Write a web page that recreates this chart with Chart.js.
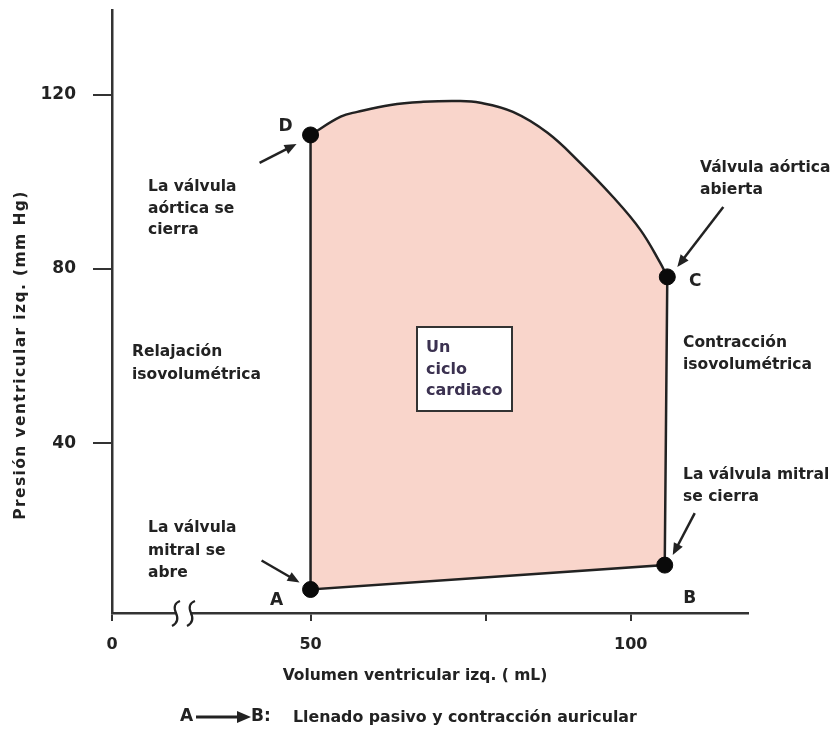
<!DOCTYPE html>
<html>
<head>
<meta charset="utf-8">
<script src="https://cdn.jsdelivr.net/npm/chart.js@4/dist/chart.umd.min.js"></script>
<style>
  html, body { margin: 0; padding: 0; background: #fff; }
  #wrap { width: 837px; height: 730px; }
</style>
</head>
<body>
<div id="wrap"><canvas id="pvLoop" width="837" height="730"></canvas></div>
<script>
// labelled corners of the loop
const cornerNames    = ['A', 'B', 'C', 'D'];
const cornerVolume   = [50, 105.3, 105.7, 50];
const cornerPressure = [6.4, 12.0, 78.2, 110.8];

// ejection curve, from C round the top to D
const curveVolume   = [105.7, 104.6, 101.5, 97.2, 92.1, 87.0, 81.6, 76.5, 72.9, 67.6, 62.5, 57.3, 54.7, 50];
const curvePressure = [78.2, 81.4, 89.0, 96.6, 104.4, 111.3, 116.1, 118.2, 118.6, 118.4, 117.7, 116.1, 115.0, 110.8];

// axis ticks (the 19 mL tick stands for the broken "0")
const xTicks = [19, 50, 77.4, 100];
const xTickText = ['0', '50', '', '100'];
const yTicks = [40, 80, 120];

const ink = '#222';
const FAMILY = '"DejaVu Sans", Verdana, sans-serif';
const bold = (size) => 'bold ' + size + 'px ' + FAMILY;

const corner = (i) => ({ x: cornerVolume[i], y: cornerPressure[i] });
const curvePoints = curveVolume.map((v, i) => ({ x: v, y: curvePressure[i] }));
// loop = A, B, then the curve C..D, back to A (fill only)
const loopPoints = [corner(0), corner(1)].concat(curvePoints, [corner(0)]);
// straight edges D -> A -> B -> C
const edgePoints = [corner(3), corner(0), corner(1), corner(2)];

//draws the notes, arrows, letters, axis titles and the axis break
const notesPlugin = {
    id: 'notes',
    afterDraw(chart) {
        const ctx = chart.ctx;
        const xs = chart.scales.x, ys = chart.scales.y;
        const px = (i) => xs.getPixelForValue(cornerVolume[i]);
        const py = (i) => ys.getPixelForValue(cornerPressure[i]);

        ctx.save();
        ctx.fillStyle = ink;
        ctx.strokeStyle = ink;

        const lines = (arr, x, y, lh, font, color) => {
            ctx.font = font;
            ctx.fillStyle = color || ink;
            ctx.textAlign = 'left';
            ctx.textBaseline = 'middle';
            arr.forEach((t, k) => ctx.fillText(t, x, y + k * lh));
        };

        const arrow = (x1, y1, x2, y2) => {
            const a = Math.atan2(y2 - y1, x2 - x1);
            ctx.fillStyle = ink;
            ctx.lineWidth = 2.5;
            ctx.beginPath();
            ctx.moveTo(x1, y1);
            ctx.lineTo(x2 - 8 * Math.cos(a), y2 - 8 * Math.sin(a));
            ctx.stroke();
            ctx.beginPath();
            ctx.moveTo(x2, y2);
            ctx.lineTo(x2 - 12 * Math.cos(a) + 5 * Math.sin(a), y2 - 12 * Math.sin(a) - 5 * Math.cos(a));
            ctx.lineTo(x2 - 12 * Math.cos(a) - 5 * Math.sin(a), y2 - 12 * Math.sin(a) + 5 * Math.cos(a));
            ctx.closePath();
            ctx.fill();
        };

        // arrows pointing at the corners (offsets from each corner)
        const arrowOffsets = [[-49, -29, -11, -7], [30, -52, 8, -10], [56, -70, 10, -10], [-51, 28, -14, 9]];
        const letterOffsets = [[-34, 11], [25, 33], [28, 5], [-25, -8]];
        cornerNames.forEach((name, i) => {
            const o = arrowOffsets[i];
            arrow(px(i) + o[0], py(i) + o[1], px(i) + o[2], py(i) + o[3]);
            ctx.font = bold(17);
            ctx.textAlign = 'center';
            ctx.textBaseline = 'middle';
            ctx.fillText(name, px(i) + letterOffsets[i][0], py(i) + letterOffsets[i][1]);
        });

        const noteFont = bold(15.5);
        lines(['La válvula', 'aórtica se', 'cierra'], 148, 187, 21.5, noteFont);
        lines(['Relajación', 'isovolumétrica'], 132, 352, 23, noteFont);
        lines(['La válvula', 'mitral se', 'abre'], 148, 528, 22.5, noteFont);
        lines(['Válvula aórtica', 'abierta'], 700, 168, 22, noteFont);
        lines(['Contracción', 'isovolumétrica'], 683, 343, 22, noteFont);
        lines(['La válvula mitral', 'se cierra'], 683, 475, 22, noteFont);

        // "Un ciclo cardiaco" box
        ctx.fillStyle = '#fff';
        ctx.fillRect(417, 327, 95, 84);
        ctx.lineWidth = 2;
        ctx.strokeStyle = '#333';
        ctx.strokeRect(417, 327, 95, 84);
        lines(['Un', 'ciclo', 'cardiaco'], 426, 348, 21.5, bold(16), '#3b3150');

        // axis break on the volume axis
        const by = xs.top;
        ctx.fillStyle = '#fff';
        ctx.fillRect(177, by - 4, 13, 8);
        ctx.strokeStyle = ink;
        ctx.lineWidth = 2.2;
        [176, 191].forEach((bx) => {
            ctx.beginPath();
            ctx.moveTo(bx + 4, by - 12);
            ctx.quadraticCurveTo(bx - 4, by - 9, bx, by);
            ctx.quadraticCurveTo(bx + 4, by + 9, bx - 4, by + 13);
            ctx.stroke();
        });

        // axis titles
        ctx.fillStyle = ink;
        ctx.font = bold(15.5);
        ctx.textAlign = 'center';
        ctx.textBaseline = 'middle';
        ctx.fillText('Volumen ventricular izq. ( mL)', 415, 676);
        ctx.save();
        ctx.translate(21, 355);
        ctx.rotate(-Math.PI / 2);
        if ('letterSpacing' in ctx) {
            ctx.letterSpacing = '1.4px';
            ctx.font = bold(15.5);
        } else {
            ctx.font = bold(17.5);
        }
        ctx.fillText('Presión ventricular izq. (mm Hg)', 0, 0);
        ctx.restore();

        // A -> B caption
        ctx.font = bold(17);
        ctx.textAlign = 'left';
        ctx.fillText('A', 180, 717);
        ctx.lineWidth = 3;
        ctx.beginPath();
        ctx.moveTo(196, 717);
        ctx.lineTo(240, 717);
        ctx.stroke();
        ctx.beginPath();
        ctx.moveTo(251, 717);
        ctx.lineTo(237, 711);
        ctx.lineTo(237, 723);
        ctx.closePath();
        ctx.fill();
        ctx.fillText('B:', 251, 717);
        ctx.font = bold(15.8);
        ctx.fillText('Llenado pasivo y contracción auricular', 293, 718);

        ctx.restore();
    }
};

const config = {
    type: 'scatter',
    data: {
        datasets: [{
            // filled loop, no border, drawn underneath
            data: loopPoints,
            order: 3,
            showLine: true,
            fill: 'shape',
            backgroundColor: 'rgb(249, 213, 203)',
            borderWidth: 0,
            borderColor: 'rgba(0,0,0,0)',
            tension: 0,
            pointRadius: 0
        }, {
            // straight edges
            data: edgePoints,
            order: 2,
            showLine: true,
            fill: false,
            borderColor: '#222',
            borderWidth: 2.5,
            tension: 0,
            pointRadius: 0
        }, {
            // smooth top curve
            data: curvePoints,
            order: 1,
            showLine: true,
            fill: false,
            borderColor: '#222',
            borderWidth: 2.5,
            tension: 0.4,
            pointRadius: 0
        }, {
            data: cornerVolume.map((v, i) => corner(i)),
            order: 0,
            showLine: false,
            pointRadius: 8,
            pointBackgroundColor: '#0a0a0a',
            pointBorderColor: '#0a0a0a'
        }]
    },
    options: {
        responsive: false,
        animation: false,
        layout: { padding: { top: 10, right: 89, left: 0, bottom: 0 } },
        plugins: {
            legend: { display: false },
            tooltip: { enabled: false }
        },
        scales: {
            x: {
                type: 'linear',
                min: 19,
                max: 118.3,
                afterBuildTicks: (scale) => { scale.ticks = xTicks.map((v) => ({ value: v })); },
                afterFit: (scale) => {
                    scale.height = 117;
                    scale.paddingLeft = 0;
                    scale.paddingRight = 0;
                },
                ticks: {
                    callback: (v) => xTickText[xTicks.indexOf(v)],
                    font: { family: FAMILY, size: 16, weight: 'bold' },
                    color: ink,
                    padding: 14,
                    maxRotation: 0,
                    autoSkip: false
                },
                grid: { drawOnChartArea: false, drawTicks: true, tickLength: 8, color: '#333', lineWidth: 2 },
                border: { display: true, color: '#333', width: 2.5 }
            },
            y: {
                type: 'linear',
                min: 1,
                max: 139.5,
                afterBuildTicks: (scale) => { scale.ticks = yTicks.map((v) => ({ value: v })); },
                afterFit: (scale) => {
                    scale.width = 112;
                    scale.paddingTop = 0;
                    scale.paddingBottom = 0;
                },
                ticks: {
                    font: { family: FAMILY, size: 17, weight: 'bold' },
                    color: ink,
                    padding: 17
                },
                grid: { drawOnChartArea: false, drawTicks: true, tickLength: 19, color: '#333', lineWidth: 2 },
                border: { display: true, color: '#333', width: 2.5 }
            }
        }
    },
    plugins: [notesPlugin]
};

new Chart(document.getElementById('pvLoop').getContext('2d'), config);
</script>
</body>
</html>
